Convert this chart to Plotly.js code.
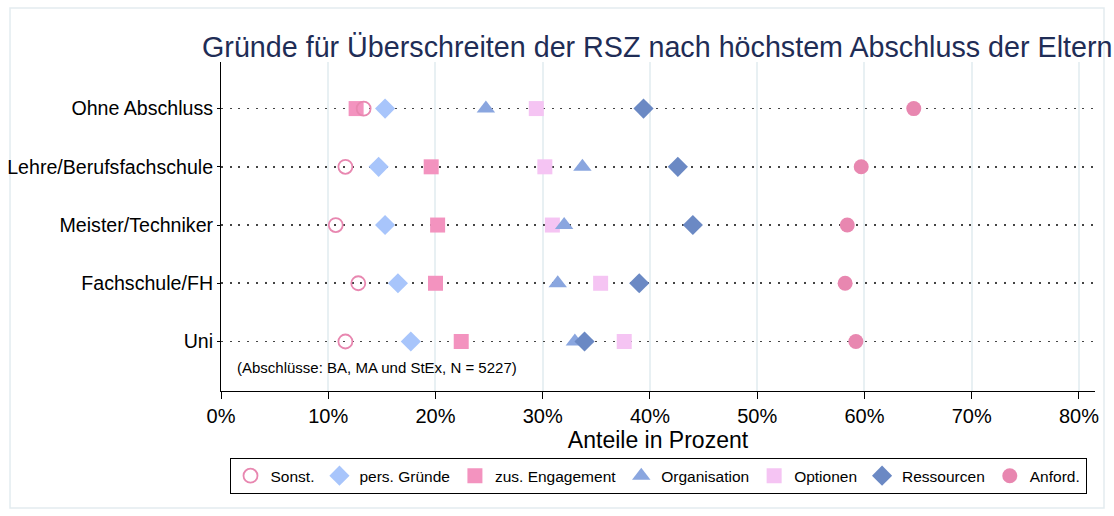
<!DOCTYPE html>
<html>
<head>
<meta charset="utf-8">
<script src="https://cdn.plot.ly/plotly-3.0.1.min.js"></script>
<style>html,body{margin:0;padding:0;background:#fff;}#chart{width:1114px;height:516px;}</style>
</head>
<body>
<div id="chart"></div>
<script>
const categories = ['Ohne Abschluss', 'Lehre/Berufsfachschule', 'Meister/Techniker', 'Fachschule/FH', 'Uni'];
const sonst       = [13.3, 11.6, 10.7, 12.8, 11.6];
const persGruende = [15.3, 14.7, 15.3, 16.5, 17.7];
const zusEngag    = [12.6, 19.6, 20.2, 20.0, 22.4];
const organisation= [24.7, 33.7, 32.0, 31.4, 33.0];
const optionen    = [29.4, 30.2, 30.9, 35.4, 37.6];
const ressourcen  = [39.4, 42.6, 44.0, 39.0, 33.9];
const anford      = [64.6, 59.7, 58.4, 58.2, 59.2];
const xTickVals = [0, 10, 20, 30, 40, 50, 60, 70, 80];
const xTickText = ['0%', '10%', '20%', '30%', '40%', '50%', '60%', '70%', '80%'];

function tr(name, vals, symbol, color, size, rank, open) {
  return {
    type: 'scatter', mode: 'markers', name: name,
    x: vals, y: categories, legendrank: rank,
    marker: open ? {symbol: symbol, size: size, color: color, line: {color: color, width: 1.8}}
                 : {symbol: symbol, size: size, color: color, line: {width: 0}},
    cliponaxis: false
  };
}
const data = [
  tr('zus. Engagement', zusEngag, 'square', '#f393bf', 15, 3),
  tr('Sonst.', sonst, 'circle-open', '#e887b0', 14, 1, true),
  tr('pers. Gründe', persGruende, 'diamond', '#a8c5fb', 15.5, 2),
  tr('Optionen', optionen, 'square', '#f5c4f3', 15, 5),
  tr('Organisation', organisation, 'triangle-up', '#8aa6df', 16, 4),
  tr('Ressourcen', ressourcen, 'diamond', '#6b89c4', 15.5, 6),
  tr('Anford.', anford, 'circle', '#e887b0', 15, 7)
];
const font = 'Liberation Sans, Arial, sans-serif';
const layout = {
  width: 1114, height: 516,
  paper_bgcolor: '#fff', plot_bgcolor: '#fff',
  margin: {l: 221, r: 19, t: 62, b: 125},
  font: {family: font, color: '#000'},
  title: {text: 'Gründe für Überschreiten der RSZ nach höchstem Abschluss der Eltern',
          x: 0.59, xanchor: 'center', y: 0.909, yanchor: 'middle', xref: 'container', yref: 'container',
          font: {family: font, size: 28.7, color: '#1f2d56'}},
  xaxis: {range: [0, 81.5], tickvals: xTickVals, ticktext: xTickText,
          showgrid: true, gridcolor: '#e8f0f3', gridwidth: 2, zeroline: false,
          showline: true, linecolor: '#000', linewidth: 1,
          ticks: 'outside', ticklen: 7, tickcolor: '#000',
          tickfont: {size: 20, family: font},
          title: {text: 'Anteile in Prozent', font: {size: 23, family: font}, standoff: 4}},
  yaxis: {type: 'category', categoryorder: 'array', categoryarray: categories.slice().reverse(),
          range: [-0.85, 4.8], showgrid: true, gridcolor: '#444', gridwidth: 1.6, griddash: '2px,6.7px',
          zeroline: false, showline: true, linecolor: '#000', linewidth: 1,
          ticks: 'outside', ticklen: 3, tickcolor: '#000', ticklabelstandoff: 0,
          tickfont: {size: 19.6, family: font}},
  showlegend: true,
  legend: {orientation: 'h', x: 0.5, xanchor: 'center', y: -0.204, yanchor: 'top',
           bordercolor: '#000', borderwidth: 1, bgcolor: '#fff',
           font: {size: 15.5, family: font}, itemwidth: 30, tracegroupgap: 0},
  annotations: [{text: '(Abschlüsse: BA, MA und StEx, N = 5227)', xref: 'paper', yref: 'paper',
                 x: 0.016, y: 0.07, xanchor: 'left', yanchor: 'middle', showarrow: false,
                 font: {size: 15, family: font}}],
  shapes: [{type: 'rect', xref: 'paper', yref: 'paper', x0: -0.2414, x1: 1.0103, y0: -0.3556, y1: 1.164,
            line: {color: '#e3ecf0', width: 1.5}, layer: 'below'}]
};
Plotly.newPlot('chart', data, layout, {displayModeBar: false, staticPlot: true});
</script>
</body>
</html>
